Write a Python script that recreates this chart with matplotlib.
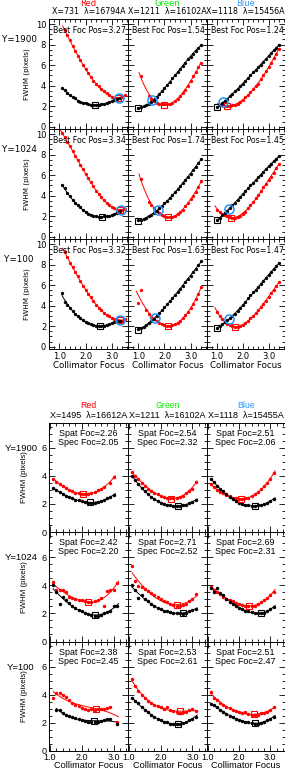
import numpy as np
import matplotlib
matplotlib.use('Agg')
import matplotlib.pyplot as plt
from matplotlib.ticker import MultipleLocator, FixedLocator

nan = np.nan
W, H = 285, 771

# ---------------- data: top block ----------------
top_x = [1.0, 1.1, 1.2, 1.3, 1.4, 1.5, 1.6, 1.7, 1.8, 1.9, 2.0, 2.1, 2.2,
         2.3, 2.4, 2.5, 2.6, 2.7, 2.8, 2.9, 3.0, 3.1, 3.2, 3.3, 3.4, 3.5]
top_cols = ["Red", "Green", "Blue"]
top_hdr = ["X=731  \u03bb=16794A", "X=1211  \u03bb=16102A", "X=1118  \u03bb=15456A"]
rows_lbl = ["Y=1900", "Y=1024", "Y=100"]
best_foc = [[3.27, 1.54, 1.24], [3.34, 1.74, 1.45], [3.32, 1.63, 1.47]]

t11_red = [nan, nan, 9.4, 8.9, 8.4, 7.9, 7.4, 6.9, 6.45, 6.0, 5.6, 5.2, 4.85, 4.5, 4.2,
           3.95, 3.7, 3.45, 3.25, 3.05, 2.9, 2.8, 2.75, 2.75, 2.85, 3.1]
t11_blk = [nan, 3.75, 3.55, 3.3, 3.05, 2.9, 2.75, 2.55, 2.45, 2.35, 2.3, 2.2, 2.15, 2.15,
           2.1, 2.15, 2.2, 2.25, 2.3, 2.4, 2.5, 2.6, 2.7, 2.8, nan, nan]
t12_red = [nan, 4.9, nan, nan, 3.0, 2.7, 2.5, 2.35, 2.25, 2.2, 2.2, 2.2, 2.25, 2.35, 2.5,
           2.7, 2.95, 3.25, 3.6, 4.0, 4.45, 4.9, 5.35, 5.8, 6.2, nan]
t12_blk = [1.8, 1.9, 2.0, 2.1, 2.25, 2.45, 2.65, 2.9, 3.15, 3.45, 3.75, 4.05, 4.4, 4.75,
           5.05, 5.35, 5.65, 5.95, 6.25, 6.55, 6.8, 7.1, 7.4, 7.7, 8.0, nan]
t13_red = [nan, 2.15, 2.1, 2.05, 2.05, 2.05, 2.1, 2.15, 2.25, 2.4, 2.6, 2.85, 3.1, 3.4,
           3.7, 3.95, 4.2, 4.6, 5.0, 5.4, 5.8, 6.2, 6.65, 7.1, 7.6, nan]
t13_blk = [1.95, 2.1, 2.3, 2.5, 2.7, 2.95, 3.2, 3.45, 3.7, 3.95, 4.2, 4.5, 4.75, 5.0,
           5.3, 5.55, 5.8, 6.05, 6.35, 6.6, 6.85, 7.15, 7.45, 7.7, 8.0, nan]

t21_red = [nan, 10.1, 9.7, 9.25, 8.8, 8.35, 7.9, 7.45, 7.0, 6.55, 6.1, 5.7, 5.3, 4.9, 4.5,
           4.15, 3.85, 3.55, 3.3, 3.1, 2.9, 2.75, 2.65, 2.6, 2.6, 2.7]
t21_blk = [nan, 5.0, 4.7, 4.3, 4.0, 3.6, 3.3, 3.05, 2.85, 2.6, 2.4, 2.25, 2.1, 2.05, 2.0,
           1.95, 1.95, 2.0, 2.0, 2.05, 2.1, 2.2, 2.35, 2.5, nan, nan]
t22_red = [nan, 5.6, nan, nan, 3.4, 3.1, 2.75, 2.5, 2.3, 2.1, 2.0, 1.9, 1.9, 1.95, 2.05,
           2.2, 2.4, 2.65, 2.95, 3.3, 3.65, 4.0, 4.4, 4.85, 5.4, nan]
t22_blk = [1.6, 1.65, 1.75, 1.85, 2.0, 2.15, 2.3, 2.5, 2.75, 3.0, 3.25, 3.5, 3.8, 4.1,
           4.4, 4.65, 4.95, 5.2, 5.5, 5.8, 6.1, 6.45, 6.8, 7.2, 7.6, nan]
t23_red = [2.6, 2.4, 2.2, 2.1, 2.0, 1.9, 1.85, 1.85, 1.9, 2.0, 2.2, 2.45, 2.75, 3.05,
           3.4, 3.75, 4.1, 4.45, 4.8, 5.15, 5.5, 5.85, 6.25, 6.65, 7.1, nan]
t23_blk = [1.6, 1.85, 2.1, 2.3, 2.55, 2.8, 3.05, 3.3, 3.6, 3.9, 4.15, 4.45, 4.7, 5.0,
           5.25, 5.5, 5.8, 6.05, 6.3, 6.6, 6.85, 7.1, 7.35, 7.6, 7.85, nan]

t31_red = [nan, nan, 9.2, 8.7, 8.2, 7.75, 7.3, 6.85, 6.4, 5.95, 5.55, 5.15, 4.8, 4.45,
           4.1, 3.8, 3.55, 3.3, 3.1, 2.95, 2.8, 2.7, 2.6, 2.55, 2.55, 2.7]
t31_blk = [nan, 5.2, 4.35, 4.1, 3.75, 3.45, 3.2, 3.0, 2.8, 2.6, 2.45, 2.3, 2.2, 2.1, 2.05,
           2.0, 2.0, 2.05, 2.1, 2.2, 2.3, 2.4, 2.5, 2.55, nan, nan]
t32_red = [4.3, 5.5, nan, 3.6, 3.2, 2.9, 2.7, 2.5, 2.35, 2.2, 2.1, 2.05, 2.05, 2.1, 2.2,
           2.35, 2.55, 2.8, 3.1, 3.4, 3.75, 4.15, 4.6, 5.1, 5.8, nan]
t32_blk = [1.7, 1.8, 1.95, 2.1, 2.3, 2.5, 2.7, 2.95, 3.25, 3.55, 3.85, 4.15, 4.45, 4.75,
           5.05, 5.35, 5.65, 5.95, 6.3, 6.6, 6.9, 7.25, 7.6, 7.95, 8.3, nan]
t33_red = [3.4, 3.0, 2.7, 2.45, 2.25, 2.1, 2.0, 1.95, 1.95, 2.0, 2.1, 2.3, 2.5, 2.75,
           3.0, 3.3, 3.6, 3.9, 4.2, 4.5, 4.85, 5.2, 5.55, 5.9, 6.3, nan]
t33_blk = [1.8, 2.0, 2.2, 2.4, 2.6, 2.8, 3.0, 3.2, 3.45, 3.75, 4.05, 4.35, 4.7, 5.0,
           5.3, 5.55, 5.85, 6.1, 6.4, 6.7, 6.95, 7.25, 7.55, 7.85, 8.2, nan]

top_red = [[t11_red, t12_red, t13_red], [t21_red, t22_red, t23_red], [t31_red, t32_red, t33_red]]
top_blk = [[t11_blk, t12_blk, t13_blk], [t21_blk, t22_blk, t23_blk], [t31_blk, t32_blk, t33_blk]]

# ---------------- data: bottom block ----------------
bot_x = [1.1, 1.2, 1.3, 1.4, 1.5, 1.6, 1.7, 1.8, 1.9, 2.0, 2.1, 2.2, 2.3, 2.4, 2.5,
         2.6, 2.7, 2.8, 2.9, 3.0, 3.1]
bot_hdr = ["X=1495  \u03bb=16612A", "X=1211  \u03bb=16102A", "X=1118  \u03bb=15455A"]
spat_foc = [[2.26, 2.54, 2.51], [2.42, 2.71, 2.69], [2.38, 2.53, 2.51]]
spec_foc = [[2.05, 2.32, 2.06], [2.20, 2.52, 2.31], [2.45, 2.61, 2.47]]

b11_red = [3.8, 3.6, 3.45, 3.3, 3.15, 3.0, 2.9, 2.8, 2.75, 2.7, 2.7, 2.7, 2.75, 2.85,
           3.0, 3.1, 3.2, nan, 3.5, 3.95, nan]
b11_blk = [3.15, 3.0, 2.85, 2.7, 2.6, 2.5, 2.4, 2.3, 2.25, 2.2, 2.15, 2.1, 2.1, 2.1,
           2.15, 2.2, 2.3, 2.4, 2.5, 2.65, nan]
b12_red = [4.3, 4.0, 3.75, 3.5, 3.3, 3.1, 2.95, 2.8, 2.7, 2.6, 2.5, 2.45, 2.4, 2.4,
           2.45, 2.5, 2.6, 2.75, 2.9, 3.1, 3.6]
b12_blk = [4.0, 3.7, 3.4, 3.15, 2.9, 2.7, 2.5, 2.35, 2.2, 2.1, 2.0, 1.95, 1.9, 1.85,
           1.85, 1.85, 1.9, 1.95, 2.05, 2.15, 2.3]
b13_red = [3.4, 3.2, 3.0, 2.85, 2.75, 2.65, 2.55, 2.45, 2.4, 2.35, 2.35, 2.4, 2.45, 2.55,
           2.7, 2.85, 3.05, 3.25, 3.5, 3.8, 4.2]
b13_blk = [3.8, 3.55, 3.3, 3.1, 2.9, 2.7, 2.5, 2.35, 2.2, 2.1, 2.0, 1.95, 1.9, 1.85,
           1.85, 1.9, 1.95, 2.0, 2.1, 2.2, 2.35]

b21_red = [4.25, 3.65, 3.65, 3.7, 3.5, 3.2, 3.1, 3.0, 2.95, 2.95, 2.85, 2.8, 2.8, 2.85,
           2.95, 3.1, 2.55, 3.6, 3.65, 3.7, 4.15]
b21_blk = [4.0, 3.5, 2.7, 3.2, 2.95, 2.75, 2.55, 2.4, 2.25, 2.15, 2.05, 1.95, 1.9, 1.85,
           1.85, 1.9, 2.0, 2.1, 2.2, 2.5, 2.55]
b22_red = [5.4, 4.3, 3.95, 3.85, 3.75, 3.6, 3.45, 3.3, 3.15, 3.0, 2.9, 2.8, 2.7, 2.6,
           2.55, 2.5, 2.6, 2.7, 2.85, 3.0, 3.35]
b22_blk = [4.0, 3.65, 3.1, 3.3, 3.05, 2.85, 2.7, 2.55, 2.4, 2.3, 2.2, 2.15, 2.1, 2.05,
           2.0, 2.0, 1.95, 2.05, 2.15, 2.25, 2.35]
b23_red = [3.9, 3.7, 3.5, 3.35, 3.2, 3.05, 2.95, 2.85, 2.75, 2.65, 2.6, 2.55, 2.5, 2.5,
           2.55, 2.65, 2.8, 2.95, 3.1, 3.3, 3.55]
b23_blk = [3.8, 3.55, 3.8, 3.45, 3.3, 3.0, 2.8, 2.65, 2.5, 2.4, 2.3, 2.2, 2.15, 2.1,
           2.05, 2.0, 2.0, 2.05, 2.15, 2.3, 2.45]

b31_red = [3.8, 4.15, 4.1, 4.0, 3.85, 3.65, 3.45, 3.3, 3.2, 3.05, 3.0, 2.95, 3.0, 2.95,
           3.0, 3.0, 3.0, 3.05, 3.1, nan, 2.05]
b31_blk = [nan, 2.9, 2.95, 2.7, 2.6, 2.5, 2.4, 2.35, 2.25, 2.2, 2.15, 2.1, 2.1, 2.1,
           2.1, 2.15, 2.2, 2.25, 2.3, nan, 1.9]
b32_red = [5.1, 4.6, 4.25, 4.0, 3.8, 3.55, 3.4, 3.3, 3.2, 3.1, 3.0, 3.1, 2.95, 2.85,
           2.8, 2.7, 2.75, 2.8, 2.9, 3.0, 2.85]
b32_blk = [3.75, 3.55, 3.4, 3.15, 2.95, 2.75, 2.55, 2.4, 2.3, 2.2, 2.1, 2.05, 1.95, 1.9,
           1.9, 1.95, 2.0, 2.1, 2.2, 2.3, 2.45]
b33_red = [4.2, 3.8, 3.6, 3.4, 3.3, 3.15, 3.05, 2.95, 2.85, 2.8, 2.7, 2.75, 2.65, 2.6,
           2.6, 2.55, 2.7, 2.7, 2.8, 2.9, 3.15]
b33_blk = [3.35, 3.25, 3.1, 2.95, 2.8, 2.65, 2.5, 2.4, 2.3, 2.2, 2.15, 2.1, 2.05, 2.0,
           1.95, 1.95, 2.0, 2.1, 2.2, 2.3, 2.45]

bot_red = [[b11_red, b12_red, b13_red], [b21_red, b22_red, b23_red], [b31_red, b32_red, b33_red]]
bot_blk = [[b11_blk, b12_blk, b13_blk], [b21_blk, b22_blk, b23_blk], [b31_blk, b32_blk, b33_blk]]

# ---------------- styling ----------------
RED = '#ff0000'
HDR_COL = ['#ff0000', '#00ee00', '#3399ff']
CIRC = '#1e8fff'
TOPFONT = 'DejaVu Sans'
BOTFONT = 'Liberation Sans'

fig = plt.figure(figsize=(W / 100, H / 100), dpi=100)

col_edges = [49, 128, 206.7, 284.5]
top_rows = [19.3, 129.3, 239.3, 349.3]
bot_rows = [422.7, 532, 641.5, 751]


def add_ax(x0, y0, x1, y1):
    return fig.add_axes([x0 / W, 1 - y1 / H, (x1 - x0) / W, (y1 - y0) / H])


def ptext(x, y, s, **kw):
    fig.text(x / W, 1 - y / H, s, **kw)


def fit_curve(x, y, deg):
    x = np.asarray(x, float)
    y = np.asarray(y, float)
    m = ~np.isnan(y)
    c = np.polyfit(x[m], y[m], deg)
    return c, x[m].min(), x[m].max()


def style_axes(ax, font, fs, ymaj, ymin, xmin_step, pad):
    ax.tick_params(which='both', direction='in', top=True, right=True,
                   labelsize=fs, pad=pad, width=0.6)
    ax.tick_params(which='major', length=4)
    ax.tick_params(which='minor', length=2)
    ax.xaxis.set_major_locator(FixedLocator([1.0, 2.0, 3.0]))
    ax.xaxis.set_minor_locator(MultipleLocator(xmin_step))
    ax.yaxis.set_major_locator(MultipleLocator(ymaj))
    ax.yaxis.set_minor_locator(MultipleLocator(ymin))
    ax.xaxis.set_major_formatter(plt.FuncFormatter(lambda v, p: f"{v:.1f}"))
    ax.yaxis.set_major_formatter(plt.FuncFormatter(lambda v, p: f"{v:.0f}"))
    for s in ax.spines.values():
        s.set_linewidth(0.7)
    for lab in ax.get_xticklabels() + ax.get_yticklabels():
        lab.set_fontfamily(font)


# ---------------- top block ----------------
for r in range(3):
    for c in range(3):
        ax = add_ax(col_edges[c], top_rows[r], col_edges[c + 1], top_rows[r + 1])
        xs = np.array(top_x)
        red = np.array(top_red[r][c], float)
        blk = np.array(top_blk[r][c], float)
        cr, r0, r1 = fit_curve(xs, red, 3)
        cb, b0, b1 = fit_curve(xs, blk, 3)
        xr = np.linspace(r0 - 0.08, r1, 100)
        xb = np.linspace(b0, b1, 100)
        ax.plot(xr, np.polyval(cr, xr), color=RED, lw=0.7)
        ax.plot(xb, np.polyval(cb, xb), color='black', lw=0.7)
        ax.plot(xs, red, 'o', color=RED, ms=2.4, mec='none')
        ax.plot(xs, blk, 'o', color='black', ms=2.4, mec='none')
        xbm = xb[np.argmin(np.polyval(cb, xb))]
        xrm = np.linspace(r0, r1, 100)
        xrm = xrm[np.argmin(np.polyval(cr, xrm))]
        ax.plot([xbm], [np.polyval(cb, xbm)], 's', mfc='none', mec='black', ms=5, mew=0.8)
        ax.plot([xrm], [np.polyval(cr, xrm)], 's', mfc='none', mec=RED, ms=5, mew=0.8)
        bf = best_foc[r][c]
        ax.plot([bf], [np.polyval(cb, bf)], 'o', mfc='none', mec=CIRC, ms=6.5, mew=1.1)
        ax.set_xlim(0.6, 3.62)
        ax.set_ylim(-0.25, 10.46)
        style_axes(ax, TOPFONT, 6, 2, 0.5, 0.2, 2)
        if c > 0:
            ax.set_yticklabels([])
        if r < 2:
            ax.set_xticklabels([])
        else:
            ptext((col_edges[c] + col_edges[c + 1]) / 2, 365, "Collimator Focus",
                  fontsize=6.2, family=TOPFONT, ha='center', va='center')
        if c == 0:
            ax.set_ylabel("FWHM (pixels)", fontsize=5.2, family=TOPFONT)
            ax.yaxis.set_label_coords(-(49 - 30) / 79.0, 0.5)
        ax.text(0.05, 0.895, f"Best Foc Pos={bf:.2f}", transform=ax.transAxes,
                fontsize=5.7, family=TOPFONT, va='center', ha='left')
    ptext(19, top_rows[r] + 20, rows_lbl[r], fontsize=6.3, family=TOPFONT,
          ha='center', va='center')

for c in range(3):
    cx = (col_edges[c] + col_edges[c + 1]) / 2
    ptext(cx, 3.5, top_cols[c], color=HDR_COL[c], fontsize=6, family=TOPFONT,
          ha='center', va='center')
    ptext(cx, 11, top_hdr[c], fontsize=5.7, family=TOPFONT, ha='center', va='center')

# ---------------- bottom block ----------------
for r in range(3):
    for c in range(3):
        ax = add_ax(col_edges[c], bot_rows[r], col_edges[c + 1], bot_rows[r + 1])
        xs = np.array(bot_x)
        red = np.array(bot_red[r][c], float)
        blk = np.array(bot_blk[r][c], float)
        cr, r0, r1 = fit_curve(xs, red, 3)
        cb, b0, b1 = fit_curve(xs, blk, 3)
        xr = np.linspace(r0, r1 + 0.05, 100)
        xb = np.linspace(b0, b1 + 0.05, 100)
        ax.plot(xr, np.polyval(cr, xr), color=RED, lw=0.7)
        ax.plot(xb, np.polyval(cb, xb), color='black', lw=0.7)
        ax.plot(xs, red, 'o', color=RED, ms=2.5, mec='none')
        ax.plot(xs, blk, 'o', color='black', ms=2.5, mec='none')
        sp = spat_foc[r][c]
        sc = spec_foc[r][c]
        ax.plot([sp], [np.polyval(cb, sp)], 's', mfc='none', mec='black', ms=5, mew=0.8)
        ax.plot([sc], [np.polyval(cr, sc)], 's', mfc='none', mec=RED, ms=5, mew=0.8)
        ax.set_xlim(0.97, 3.45)
        ax.set_ylim(0, 7.8)
        style_axes(ax, BOTFONT, 6.5, 2, 0.5, 0.2, 1.5)
        if c > 0:
            ax.set_yticklabels([])
        if r < 2:
            ax.set_xticklabels([])
        else:
            ptext((col_edges[c] + col_edges[c + 1]) / 2, 765.5, "Collimator Focus",
                  fontsize=6.6, family=BOTFONT, ha='center', va='center')
        if c == 0:
            ax.set_ylabel("FWHM (pixels)", fontsize=5.7, family=BOTFONT)
            ax.yaxis.set_label_coords(-(49 - 28) / 79.0, 0.5)
        ax.text(0.5, 0.9, f"Spat Foc={sp:.2f}", transform=ax.transAxes,
                fontsize=6.4, family=BOTFONT, va='center', ha='center')
        ax.text(0.5, 0.82, f"Spec Foc={sc:.2f}", transform=ax.transAxes,
                fontsize=6.4, family=BOTFONT, va='center', ha='center')
    ptext(21, bot_rows[r] + 25.5, rows_lbl[r], fontsize=6.8, family=BOTFONT,
          ha='center', va='center')

for c in range(3):
    cx = (col_edges[c] + col_edges[c + 1]) / 2
    ptext(cx, 405, top_cols[c], color=HDR_COL[c], fontsize=6.3, family=BOTFONT,
          ha='center', va='center')
    ptext(cx, 415, bot_hdr[c], fontsize=6.5, family=BOTFONT, ha='center', va='center')

fig.savefig('out.png', dpi=100)
